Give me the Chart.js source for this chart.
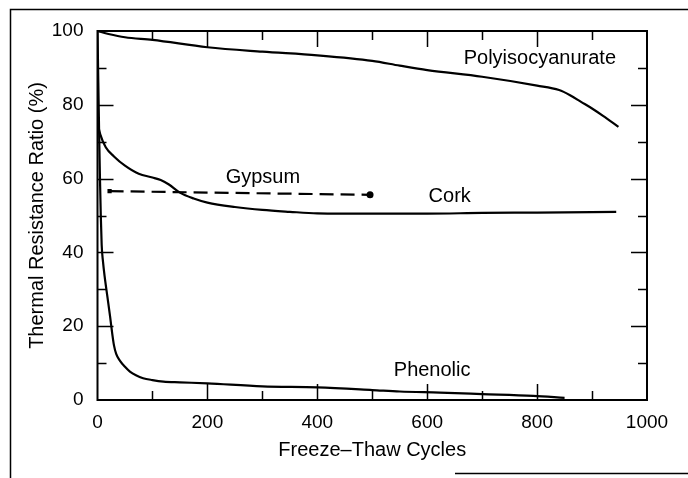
<!DOCTYPE html>
<html>
<head>
<meta charset="utf-8">
<script src="https://cdn.jsdelivr.net/npm/chart.js@4.4.1/dist/chart.umd.min.js"></script>
<style>
  html, body { margin: 0; padding: 0; background: #fff; }
  #wrap { width: 688px; height: 478px; }
</style>
</head>
<body>
<div id="wrap"><canvas id="thermalChart" width="688" height="478"></canvas></div>
<script>
// values (x = freeze-thaw cycles, y = thermal resistance ratio %)
var polyX = [0, 20, 50, 100, 200, 300, 400, 500, 550, 600, 700, 800, 840, 860, 880, 900, 920, 948];
var polyY = [100, 99.2, 98.3, 97.6, 95.6, 94.4, 93.4, 91.9, 90.6, 89.4, 87.6, 85.2, 84, 82.6, 80.8, 79, 77, 74];

var corkX = [0, 5, 15, 30, 50, 75, 100, 115, 130, 150, 175, 200, 250, 300, 350, 400, 500, 600, 700, 800, 944];
var corkY = [75, 72, 68.5, 66, 63.5, 61.3, 60.3, 59.6, 58.4, 56.2, 54.6, 53.5, 52.3, 51.5, 51, 50.6, 50.5, 50.5, 50.7, 50.8, 51];

var gypsumX = [22, 496];
var gypsumY = [56.6, 55.6];

var phenolicX = [0, 1.5, 3, 4.5, 6, 7.6, 10, 13, 18, 23, 27, 30, 34, 41, 50, 59, 70, 83, 100, 120, 150, 200, 300, 400, 500, 550, 623, 700, 793, 850];
var phenolicY = [100, 86, 72, 60, 50, 42, 37.5, 33.5, 28, 22.5, 17.8, 14.8, 12.5, 10.6, 9, 7.7, 6.7, 5.9, 5.4, 5, 4.8, 4.5, 3.7, 3.4, 2.7, 2.3, 2, 1.6, 1.1, 0.6];

// curve labels, placed in data units
var labelText = ["Polyisocyanurate", "Gypsum", "Cork", "Phenolic"];
var labelX = [805, 301, 641, 609];
var labelY = [92.6, 60.2, 55.2, 7.9];

var xTitle = "Freeze\u2013Thaw Cycles";
var yTitle = "Thermal Resistance Ratio (%)";

var FONT = '"Liberation Sans", Arial, Helvetica, sans-serif';

function pts(xs, ys) {
	return xs.map(function (x, i) { return { x: x, y: ys[i] }; });
}

function curve(xs, ys) {
	return {
		data: pts(xs, ys),
		showLine: true,
		borderColor: "#000",
		borderWidth: 2.2,
		pointRadius: 0,
		cubicInterpolationMode: "monotone",
		fill: false
	};
}

var gypsum = {
	data: pts(gypsumX, gypsumY),
	showLine: true,
	borderColor: "#000",
	backgroundColor: "#000",
	borderWidth: 2.2,
	borderDash: [14, 7],
	pointStyle: ["rect", "circle"],
	pointRadius: [3, 3.5],
	pointBorderWidth: 0,
	fill: false
};

// frame, inward ticks and curve labels
var decorations = {
	id: "decorations",
	afterDraw: function (chart) {
		var ctx = chart.ctx, a = chart.chartArea;
		var sx = chart.scales.x, sy = chart.scales.y;
		ctx.save();
		ctx.strokeStyle = "#000";

		// outer page frame (scanned figure border)
		ctx.lineWidth = 1.5;
		ctx.beginPath();
		ctx.moveTo(10.5, 478); ctx.lineTo(10.5, 9.5); ctx.lineTo(688, 9.5);
		ctx.moveTo(455, 473.5); ctx.lineTo(688, 473.5);
		ctx.stroke();

		// plot box
		ctx.lineWidth = 2;
		ctx.strokeRect(a.left, a.top, a.right - a.left, a.bottom - a.top);

		// inward ticks on all four sides
		ctx.lineWidth = 1.5;
		ctx.beginPath();
		for (var v = 100; v < 1000; v += 100) {
			var px = Math.round(sx.getPixelForValue(v)) + 0.5;
			var len = (v % 200 === 0) ? 16 : 9;
			ctx.moveTo(px, a.bottom); ctx.lineTo(px, a.bottom - len);
			ctx.moveTo(px, a.top); ctx.lineTo(px, a.top + len);
		}
		for (var w = 10; w < 100; w += 10) {
			var py = Math.round(sy.getPixelForValue(w)) + 0.5;
			var len2 = (w % 20 === 0) ? 16 : 9;
			ctx.moveTo(a.left, py); ctx.lineTo(a.left + len2, py);
			ctx.moveTo(a.right, py); ctx.lineTo(a.right - len2, py);
		}
		ctx.stroke();

		// curve labels
		ctx.fillStyle = "#000";
		ctx.font = "20px " + FONT;
		ctx.textAlign = "center";
		ctx.textBaseline = "middle";
		labelText.forEach(function (t, i) {
			ctx.fillText(t, sx.getPixelForValue(labelX[i]), sy.getPixelForValue(labelY[i]));
		});
		ctx.restore();
	}
};

new Chart(document.getElementById("thermalChart").getContext("2d"), {
	type: "scatter",
	data: {
		datasets: [
			curve(polyX, polyY),
			curve(corkX, corkY),
			gypsum,
			curve(phenolicX, phenolicY)
		]
	},
	options: {
		responsive: false,
		animation: false,
		devicePixelRatio: 1,
		layout: { padding: { left: 20, right: 41, top: 31, bottom: 12 } },
		plugins: { legend: { display: false }, tooltip: { enabled: false } },
		scales: {
			x: {
				type: "linear",
				min: 0, max: 1000,
				grid: { display: false, drawTicks: false },
				border: { display: false },
				ticks: {
					stepSize: 200, color: "#000", padding: 11, maxRotation: 0,
					font: { size: 19, family: FONT },
					callback: function (value) { return String(value); }
				},
				title: { display: true, text: xTitle, color: "#000", padding: { top: 0, bottom: 4 }, font: { size: 20, family: FONT } },
				afterFit: function (scale) { scale.height = 66; }
			},
			y: {
				type: "linear",
				min: 0, max: 100,
				grid: { display: false, drawTicks: false },
				border: { display: false },
				ticks: {
					stepSize: 20, color: "#000", padding: 14,
					font: { size: 19, family: FONT },
					callback: function (value) { return String(value); }
				},
				title: { display: true, text: yTitle, color: "#000", padding: { top: 5, bottom: 0 }, font: { size: 20, family: FONT } },
				afterFit: function (scale) { scale.width = 77.5; }
			}
		}
	},
	plugins: [decorations]
});
</script>
</body>
</html>
